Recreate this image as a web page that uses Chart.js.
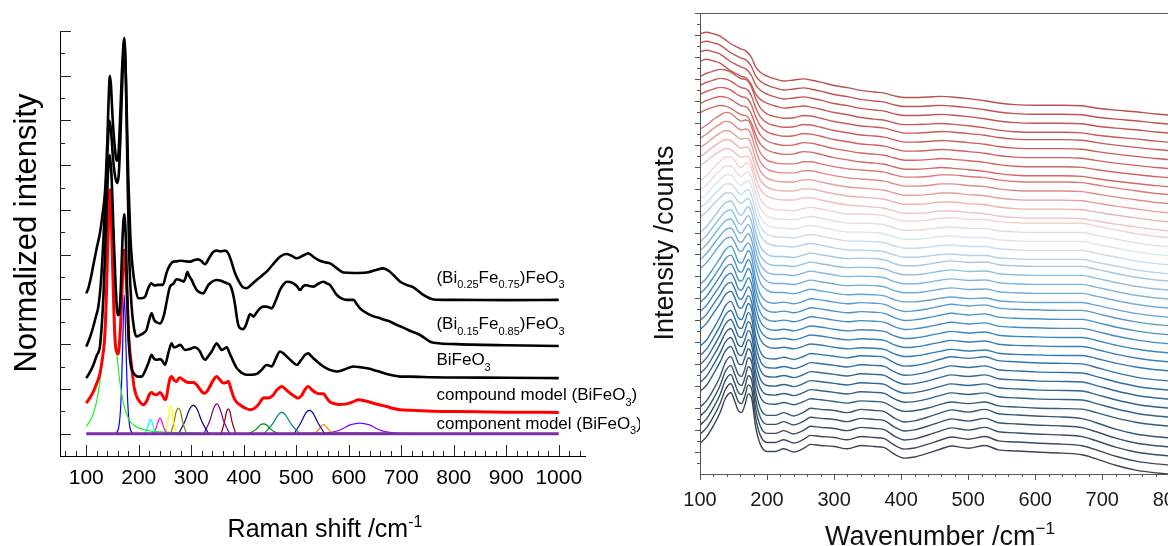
<!DOCTYPE html>
<html>
<head>
<meta charset="utf-8">
<script src="https://cdn.jsdelivr.net/npm/chart.js@4.4.1/dist/chart.umd.min.js"></script>
<style>
  html, body { margin: 0; padding: 0; background: #fff; overflow: hidden; }
  #page { position: relative; width: 1168px; height: 546px; overflow: hidden; }
  #left { position: absolute; left: 0; top: 0; width: 640px; height: 546px; }
  #right { position: absolute; left: 640px; top: 0; width: 560px; height: 546px; }
</style>
</head>
<body>
<div id="page">
  <div id="left"><canvas id="ramanChart"></canvas></div>
  <div id="right"><canvas id="waterfallChart"></canvas></div>
</div>
<script>
/* ---- Left panel: Raman spectra + peak fit ---- */
const ramanTicks = [100, 200, 300, 400, 500, 600, 700, 800, 900, 1000];

const bi25Spectrum = [[100,7.27],[104,7.5],[110,8.1],[114,8.6],[120,9.3],[126,9.96],[131,10.8],[136,11.9],[140,14.0],[143,16.2],[145,17.0],[147,16.6],[150,15.2],[154,13.9],[158,13.2],[161,13.4],[164,14.8],[168,17.2],[172.5,18.7],[176,16.5],[180,12.5],[184,9.8],[188,8.5],[193,7.6],[199,7.05],[205,7.05],[212,7.12],[218,7.5],[224,7.72],[230,7.62],[236,7.65],[246,7.65],[253,8.2],[259.5,8.54],[266,8.69],[272,8.7],[279,8.73],[290,8.7],[298,8.69],[306,8.76],[313.5,8.79],[320,8.7],[326,8.57],[334,8.85],[341,9.1],[348.5,9.18],[356,9.15],[364,9.18],[370.5,9.06],[377,8.65],[383.5,8.17],[392,7.75],[398,7.55],[405.5,7.5],[414,7.65],[424.5,7.87],[434,8.05],[443.5,8.24],[455,8.55],[469,8.91],[481.5,9.03],[491,8.95],[501,8.84],[512,8.95],[523,9.06],[534,8.88],[545,8.73],[555,8.66],[564.5,8.61],[577,8.4],[590,8.2],[610,8.18],[634,8.2],[650,8.3],[666,8.39],[676,8.28],[685,8.09],[698,7.79],[710,7.65],[723,7.54],[742,7.2],[758,7.02],[780,6.98],[806,6.98],[900,6.97],[1000,6.98]];

const bi15Spectrum = [[100,4.89],[107,5.3],[113.5,5.79],[118,6.2],[123,6.68],[128,7.8],[133,9.8],[137,11.8],[141,13.9],[144,15.0],[147,14.6],[151,13.3],[155,12.5],[159,12.2],[162,12.6],[165,14.2],[169,17.0],[172.5,18.4],[175.5,16.8],[179,12.0],[182,8.8],[186,6.8],[191,5.7],[196,5.34],[202,5.4],[208.5,5.49],[215,5.65],[220,6.1],[224.5,6.38],[229,6.1],[234,5.98],[240.5,5.93],[248,6.3],[254,7.0],[259.5,7.57],[266,7.7],[272,7.9],[278.6,7.87],[285,7.8],[289,7.95],[292.6,8.24],[296,8.05],[300.8,7.87],[305,7.65],[310.5,7.42],[317,7.3],[323,7.27],[328,7.45],[332.5,7.64],[340,7.8],[348.5,7.87],[355,7.85],[361,7.79],[368,7.72],[374,7.64],[379,7.3],[383.5,6.75],[386.5,6.25],[389.5,5.86],[394,5.7],[399,5.67],[404,5.85],[408.5,6.16],[412,6.35],[415,6.3],[418.5,6.23],[424,6.4],[431,6.6],[437,6.68],[443.5,6.68],[453,6.6],[461,6.95],[469,7.42],[475,7.65],[482,7.79],[488,7.78],[494.5,7.72],[501,7.6],[507,7.42],[512,7.55],[517,7.64],[525,7.6],[532.5,7.57],[542,7.7],[551.5,7.79],[558,7.72],[564.5,7.64],[570,7.45],[577,7.2],[586,7.05],[596,6.98],[609,6.98],[615,6.8],[621.5,6.6],[630,6.45],[640.5,6.31],[650,6.22],[659.5,6.16],[669,6.08],[678.5,6.01],[690,5.88],[698,5.8],[716.5,5.6],[736,5.41],[755,5.11],[775,5.03],[805,5.0],[900,4.95],[1000,4.92]];

const bfoSpectrum = [[100,3.48],[107,3.75],[113.5,4.07],[120,4.5],[126,4.89],[130,6.0],[133,7.3],[137,9.8],[141,12.4],[144.5,13.45],[148,12.6],[152,10.0],[156,7.6],[160,6.3],[163,6.4],[166,7.6],[169,9.7],[172.5,10.8],[175.5,9.6],[178,7.3],[181,5.2],[184,4.2],[188,3.8],[192.9,3.63],[199,3.55],[205.6,3.55],[212,3.8],[218.3,4.15],[224.6,4.52],[229,4.35],[234,4.3],[240.5,4.33],[245,4.25],[250,4.07],[256.3,4.6],[262.7,5.04],[267,4.85],[272,4.89],[279,4.97],[288,4.74],[297,4.78],[307,4.86],[312,4.8],[316.7,4.67],[321,4.45],[326.2,4.3],[332,4.45],[338.9,4.67],[344,4.9],[348.5,5.04],[353,4.9],[358,4.74],[363,4.8],[367.5,4.86],[373,4.6],[380.2,4.22],[386,3.95],[392.9,3.78],[399,3.68],[405.6,3.63],[415,3.63],[424.7,3.67],[434,3.85],[443.7,4.07],[448,4.05],[453.2,4.0],[460,4.3],[469,4.67],[475,4.6],[481.8,4.45],[491,4.25],[500.9,4.07],[508,4.25],[516.7,4.52],[523,4.59],[528,4.48],[532.6,4.37],[542,4.18],[551.6,4.0],[564,3.85],[577,3.78],[592,3.87],[608.8,4.0],[621.5,3.97],[635,3.92],[647,3.85],[660,3.76],[672.3,3.67],[685,3.6],[697.7,3.55],[716.7,3.55],[760,3.52],[805.6,3.51],[900,3.5],[1000,3.48]];

const compoundModel = [[100,2.36],[107,2.6],[113.5,2.88],[120,3.25],[126.2,3.7],[131,4.4],[135.7,5.49],[139,7.7],[142,10.3],[145,11.9],[148,10.5],[151,7.8],[154.8,5.19],[158,4.65],[161,4.57],[164,5.3],[167.5,6.98],[170,8.6],[172.5,9.2],[175,8.4],[178,6.98],[181,5.3],[186.5,4.0],[191,3.1],[196,2.66],[202,2.42],[208.7,2.29],[212,2.35],[216.3,2.51],[220,2.75],[224.6,2.84],[229,2.76],[234,2.74],[237,2.78],[240.5,2.84],[245,2.72],[250,2.51],[253,2.65],[256.3,3.11],[259,3.42],[262.7,3.55],[267,3.4],[272,3.33],[275.5,3.45],[278.6,3.5],[285,3.4],[292,3.3],[298,3.29],[304,3.29],[310,3.2],[316,3.0],[321,2.85],[326.2,2.81],[333,3.0],[341,3.35],[348.5,3.55],[355,3.4],[361,3.26],[366,3.28],[370.7,3.33],[375,3.05],[380.2,2.66],[386,2.42],[392.9,2.29],[402,2.15],[412,2.07],[420,2.12],[428,2.3],[437.4,2.59],[442,2.6],[447,2.59],[455,2.7],[463,2.95],[472.3,3.11],[480,2.98],[488.2,2.81],[496,2.68],[504,2.59],[510,2.7],[516,2.95],[523,3.11],[530,2.95],[539,2.81],[545,2.78],[551.6,2.78],[558,2.6],[564,2.42],[570.7,2.36],[580,2.3],[596,2.33],[608,2.42],[618.3,2.51],[630,2.47],[647,2.36],[660,2.28],[672.3,2.21],[685,2.12],[697.7,2.07],[716.7,2.04],[760,2.0],[805.6,1.99],[900,1.96],[1000,1.95]];

const componentBaseline = [[100,1.0],[1000,1.0]];

// fitted component peaks
const peak145 = [[100,1.32],[108,1.6],[115,2.0],[122,2.7],[128,3.7],[133,5.0],[138,7.2],[142,9.6],[145,10.85],[148,9.6],[152,7.2],[157,5.0],[162,3.7],[168,2.7],[175,2.0],[182,1.6],[192,1.35],[210,1.18],[240,1.08],[300,1.03],[400,1.0]];
const peak172 = [[156,1.0],[162,1.3],[166,2.4],[169,4.6],[172.5,7.2],[176,4.6],[179,2.4],[183,1.3],[189,1.0]];
const peak222 = [[210,1.0],[216,1.2],[219.5,1.5],[222.5,1.65],[225.5,1.5],[229,1.2],[235,1.0]];
const peak240 = [[227,1.0],[233,1.25],[237.5,1.58],[240.5,1.7],[243.5,1.58],[248,1.25],[254,1.0]];
const peak261 = [[250,1.0],[254.5,1.4],[258,2.0],[261,2.24],[264,2.0],[267.5,1.4],[272,1.0]];
const peak275 = [[261,1.0],[267,1.5],[271.5,2.0],[275.5,2.14],[279.5,2.0],[284,1.5],[291,1.0]];
const peak304 = [[276,1.0],[288,1.55],[297,2.1],[304,2.26],[311,2.1],[320,1.55],[333,1.0]];
const peak348 = [[324,1.0],[335,1.55],[343,2.15],[348.5,2.33],[354,2.15],[362,1.55],[373,1.0]];
const peak370 = [[357,1.0],[363,1.5],[367.5,2.0],[370.5,2.11],[373.5,2.0],[378,1.5],[385,1.0]];
const peak437 = [[410,1.0],[424,1.2],[432,1.4],[437.5,1.44],[443,1.4],[451,1.2],[465,1.0]];
const peak472 = [[438,1.0],[454,1.4],[466,1.85],[472.5,1.95],[479,1.85],[491,1.4],[507,1.0]];
const peak525 = [[496,1.0],[509,1.5],[519,1.95],[525,2.04],[531,1.95],[541,1.5],[554,1.0]];
const peak552 = [[536,1.0],[543,1.2],[549,1.37],[552,1.4],[555,1.37],[561,1.2],[568,1.0]];
const peak621 = [[555,1.0],[582,1.15],[604,1.4],[621,1.47],[638,1.4],[660,1.15],[692,1.0]];
const peakBroad = [[450,1.0],[520,1.02],[600,1.04],[680,1.02],[720,1.0]];

const seriesNames = [
  [["(Bi"], ["0.25", "sub"], ["Fe"], ["0.75", "sub"], [")FeO"], ["3", "sub"]],
  [["(Bi"], ["0.15", "sub"], ["Fe"], ["0.85", "sub"], [")FeO"], ["3", "sub"]],
  [["BiFeO"], ["3", "sub"]],
  [["compound model (BiFeO"], ["3", "sub"], [")"]],
  [["component model (BiFeO"], ["3", "sub"], [")"]],
];

/* ---- Right panel: temperature series waterfall ---- */
const waveTicks = [100, 200, 300, 400, 500, 600, 700, 800];
const wavenumbers = [100,110,120,130,138,146,152,157,162,167,172,177,183,190,200,212,225,240,255,265,280,300,320,340,360,375,390,405,420,440,460,475,500,525,545,570,600,640,670,690,720,750,780,800];

// spectrum shape of each group of traces (bottom group first)
const shapeDark  = [2.8,3.4,4.4,5.6,6.9,7.4,6.6,5.8,5.6,6.3,7.3,6.9,4.3,2.7,2.05,2.05,2.3,2.0,2.35,2.7,2.6,2.5,2.3,2.6,2.5,2.4,1.8,1.45,1.55,1.9,2.3,2.55,2.35,2.6,2.2,2.1,2.0,1.9,1.75,1.4,0.8,0.35,0.1,0.0];
const shapeNavy  = [3.4,4.0,5.0,6.1,7.1,7.5,6.8,6.0,5.85,6.5,7.3,6.8,4.4,2.9,2.3,2.25,2.4,2.2,2.5,2.75,2.65,2.5,2.35,2.55,2.5,2.4,1.9,1.6,1.65,1.9,2.25,2.45,2.3,2.45,2.1,2.0,1.9,1.85,1.8,1.5,1.0,0.6,0.35,0.25];
const shapeBlue  = [4.1,4.7,5.6,6.5,7.3,7.6,7.0,6.2,6.05,6.6,7.2,6.6,4.6,3.2,2.55,2.4,2.5,2.35,2.6,2.8,2.7,2.5,2.35,2.45,2.4,2.3,1.9,1.65,1.7,1.9,2.15,2.3,2.15,2.25,1.95,1.85,1.8,1.75,1.75,1.5,1.05,0.7,0.45,0.35];
const shapeSky   = [4.7,5.3,6.1,6.9,7.45,7.6,7.1,6.45,6.3,6.75,7.1,6.5,4.8,3.45,2.75,2.55,2.55,2.45,2.7,2.85,2.7,2.5,2.35,2.4,2.35,2.25,1.9,1.7,1.7,1.85,2.05,2.15,2.0,2.05,1.8,1.7,1.65,1.65,1.65,1.4,1.0,0.65,0.4,0.3];
const shapePale  = [5.3,5.8,6.5,7.1,7.5,7.5,7.15,6.7,6.55,6.85,7.0,6.4,4.95,3.65,2.95,2.7,2.65,2.6,2.8,2.9,2.75,2.5,2.3,2.3,2.25,2.15,1.85,1.65,1.65,1.75,1.9,1.95,1.8,1.8,1.6,1.5,1.45,1.45,1.45,1.2,0.85,0.5,0.25,0.15];
const shapePink  = [5.9,6.3,6.8,7.2,7.45,7.35,7.05,6.8,6.65,6.75,6.7,6.1,4.85,3.75,3.1,2.85,2.75,2.75,2.95,2.95,2.75,2.5,2.3,2.2,2.1,2.0,1.75,1.55,1.55,1.6,1.75,1.75,1.6,1.5,1.3,1.15,1.1,1.1,1.05,0.85,0.55,0.3,0.05,-0.05];
const shapeRed   = [6.6,6.9,7.1,7.25,7.2,7.0,6.75,6.55,6.4,6.35,6.15,5.6,4.6,3.75,3.2,2.95,2.8,2.85,3.05,3.0,2.8,2.5,2.3,2.1,2.0,1.9,1.65,1.45,1.45,1.5,1.6,1.55,1.4,1.25,1.05,0.9,0.85,0.85,0.8,0.6,0.35,0.15,-0.05,-0.15];
const shapeTop   = [7.2,7.35,7.2,7.0,6.65,6.3,6.1,5.95,5.8,5.7,5.45,5.0,4.2,3.7,3.35,3.1,2.9,3.0,3.1,3.0,2.8,2.5,2.3,2.05,1.9,1.8,1.55,1.4,1.4,1.45,1.5,1.45,1.3,1.1,0.9,0.75,0.7,0.7,0.65,0.45,0.25,0.1,-0.1,-0.2];

// which shape each trace uses, and its vertical offset (bottom trace first)
const traceShape = [0,0,0,0,0, 1,1,1,1,1,1, 2,2,2,2,2,2, 3,3,3,3,3, 4,4,4,4,4, 5,5,5,5,5, 6,6,6,6,6, 7,7,7,7];
const traceOffsets = [0,0.82,1.65,2.47,3.29,4.11,4.94,5.76,6.58,7.40,8.23,9.05,9.87,10.69,11.52,12.34,13.16,13.98,14.81,15.63,16.45,17.27,18.10,18.92,19.74,20.56,21.39,22.21,23.03,23.85,24.68,25.50,26.32,27.14,27.97,28.79,29.61,30.43,31.26,32.08,32.90];

/* ---- Styling ---- */
const FONT = "'Liberation Sans', Arial, Helvetica, sans-serif";
Chart.defaults.font.family = FONT;
Chart.defaults.animation = false;
Chart.defaults.plugins.legend.display = false;
Chart.defaults.plugins.tooltip.enabled = false;

const componentColors = ["#22ee22", "#0000ff", "#00ffff", "#ff00ff", "#ffff00", "#808000", "#000080", "#800080", "#800000", "#008000", "#008080", "#0000a0", "#ff8000", "#8000ff", "#a0522d"];

const traceColorStops = [
  [0, "#3b4654"], [3, "#37536b"], [7, "#2f6590"], [11, "#3479b0"], [15, "#4a92c6"],
  [19, "#82b6dc"], [22, "#b3d1e9"], [24, "#dbe5f0"], [26, "#f3d1d0"], [28, "#eeb1ae"],
  [30, "#e08a85"], [32, "#d16a64"], [36, "#c75b55"], [40, "#bb514d"],
];

function hexToRgb(h) {
  const n = parseInt(h.slice(1), 16);
  return [(n >> 16) & 255, (n >> 8) & 255, n & 255];
}

function traceColor(i) {
  for (let k = 0; k < traceColorStops.length - 1; k++) {
    const [i0, c0] = traceColorStops[k];
    const [i1, c1] = traceColorStops[k + 1];
    if (i >= i0 && i <= i1) {
      const t = (i - i0) / (i1 - i0);
      const a = hexToRgb(c0), b = hexToRgb(c1);
      return `rgb(${a.map((v, j) => Math.round(v + (b[j] - v) * t)).join(",")})`;
    }
  }
  return traceColorStops[traceColorStops.length - 1][1];
}

function steps(from, to, step) {
  const out = [];
  for (let v = from; v <= to + 1e-9; v += step) out.push(Math.round(v * 1000) / 1000);
  return out;
}

const xy = (pts) => pts.map(([x, y]) => ({ x, y }));

function trace(pts, color, width) {
  return {
    data: xy(pts),
    borderColor: color,
    borderWidth: width,
    pointRadius: 0,
    fill: false,
    cubicInterpolationMode: "monotone",
  };
}

/* ---- Plugins: tick marks, frame, rich text ---- */
const tickMarks = {
  id: "tickMarks",
  afterDatasetsDraw(chart, args, opts) {
    const { ctx, chartArea } = chart;
    ctx.save();
    ctx.strokeStyle = opts.color || "#000";
    ctx.lineWidth = 1;
    if (opts.frame) {
      ctx.strokeRect(Math.round(chartArea.left) + 0.5, Math.round(chartArea.top) + 0.5,
        Math.round(chartArea.right - chartArea.left), Math.round(chartArea.bottom - chartArea.top));
    }
    (opts.sets || []).forEach((set) => {
      const scale = chart.scales[set.axis];
      const horiz = scale.isHorizontal();
      set.values.forEach((v) => {
        const p = Math.round(scale.getPixelForValue(v)) + 0.5;
        ctx.beginPath();
        if (horiz) {
          const y0 = Math.round(chartArea.bottom);
          ctx.moveTo(p, y0);
          ctx.lineTo(p, y0 + (set.inward ? -set.len : set.len));
        } else {
          const x0 = Math.round(chartArea.left);
          ctx.moveTo(x0, p);
          ctx.lineTo(x0 + (set.inward ? set.len : -set.len), p);
        }
        ctx.stroke();
      });
    });
    ctx.restore();
  },
};

const richText = {
  id: "richText",
  afterDraw(chart, args, opts) {
    const { ctx } = chart;
    (opts.items || []).forEach((it) => {
      let x = it.x, y = it.y;
      if (it.data) {
        x = chart.scales.x.getPixelForValue(it.data[0]);
        y = chart.scales.y.getPixelForValue(it.data[1]);
      }
      ctx.save();
      ctx.translate(x, y);
      if (it.rotate) ctx.rotate(-Math.PI / 2);
      ctx.fillStyle = it.color || "#000";
      ctx.textBaseline = "alphabetic";
      ctx.textAlign = "left";
      const small = Math.round(it.size * 0.63);
      const fontFor = (r) => `${r[1] ? small : it.size}px ${FONT}`;
      const widths = it.runs.map((r) => { ctx.font = fontFor(r); return ctx.measureText(r[0]).width; });
      const total = widths.reduce((a, b) => a + b, 0);
      let cx = it.align === "center" ? -total / 2 : 0;
      it.runs.forEach((r, i) => {
        ctx.font = fontFor(r);
        const dy = r[1] === "sub" ? it.size * 0.33 : r[1] === "sup" ? -it.size * 0.42 : 0;
        ctx.fillText(r[0], cx, dy);
        cx += widths[i];
      });
      ctx.restore();
    });
  },
};

/* ---- Left chart ---- */
const componentPeaks = [peak145, peak172, peak222, peak240, peak261, peak275, peak304, peak348, peak370, peak437, peak472, peak525, peak552, peak621, peakBroad];

const leftDatasets = [
  trace(bi25Spectrum, "#000", 2.6),
  trace(bi15Spectrum, "#000", 2.6),
  trace(bfoSpectrum, "#000", 2.6),
  trace(compoundModel, "#ff0000", 3),
  trace(componentBaseline, "#7b2ca8", 3),
  ...componentPeaks.map((p, i) => trace(p, componentColors[i], 1.2)),
];

const labelY = [7.75, 5.67, 4.05, 2.5, 1.22];

new Chart(document.getElementById("ramanChart"), {
  type: "line",
  data: { datasets: leftDatasets },
  options: {
    responsive: true,
    maintainAspectRatio: false,
    layout: { padding: { top: 31, right: 55, left: 0, bottom: 0 } },
    scales: {
      x: {
        type: "linear",
        min: 50,
        max: 1050,
        afterBuildTicks: (s) => { s.ticks = ramanTicks.map((v) => ({ value: v })); },
        afterFit: (s) => { s.height = 90; },
        grid: { display: false, drawTicks: false },
        border: { color: "#000", width: 1 },
        ticks: { color: "#000", font: { size: 21 }, padding: 10, maxRotation: 0, autoSkip: false, callback: (v) => String(v) },
      },
      y: {
        type: "linear",
        min: 0,
        max: 19,
        afterFit: (s) => { s.width = 60; },
        grid: { display: false, drawTicks: false },
        border: { color: "#000", width: 1 },
        ticks: { display: false },
      },
    },
    plugins: {
      tickMarks: {
        color: "#222",
        sets: [
          { axis: "x", values: ramanTicks, len: 11, inward: true },
          { axis: "x", values: steps(60, 1040, 20).filter((v) => v % 100 !== 0), len: 5, inward: true },
          { axis: "y", values: steps(1, 19, 2), len: 11, inward: true },
          { axis: "y", values: steps(2, 18, 2), len: 5, inward: true },
        ],
      },
      richText: {
        items: [
          ...seriesNames.map((runs, i) => ({ runs, data: [767, labelY[i]], size: 17 })),
          { runs: [["Raman shift /cm"], ["-1", "sup"]], x: 325, y: 537, size: 25, align: "center" },
          { runs: [["Normalized intensity"]], x: 36, y: 233, size: 31, align: "center", rotate: true },
        ],
      },
    },
  },
  plugins: [tickMarks, richText],
});

/* ---- Right chart ---- */
const traceShapes = [shapeDark, shapeNavy, shapeBlue, shapeSky, shapePale, shapePink, shapeRed, shapeTop];

const rightDatasets = traceOffsets.map((off, i) => ({
  data: wavenumbers.map((w, j) => ({ x: w, y: traceShapes[traceShape[i]][j] + off })),
  borderColor: traceColor(i),
  borderWidth: 1.4,
  pointRadius: 0,
  fill: false,
  cubicInterpolationMode: "monotone",
}));

new Chart(document.getElementById("waterfallChart"), {
  type: "line",
  data: { datasets: rightDatasets },
  options: {
    responsive: true,
    maintainAspectRatio: false,
    layout: { padding: { top: 13, right: 20, left: 0, bottom: 0 } },
    scales: {
      x: {
        type: "linear",
        min: 100,
        max: 800,
        afterBuildTicks: (s) => { s.ticks = waveTicks.map((v) => ({ value: v })); },
        afterFit: (s) => { s.height = 72; },
        grid: { display: false, drawTicks: false },
        border: { color: "#555", width: 1 },
        ticks: { color: "#1a1a1a", font: { size: 20 }, padding: 14, maxRotation: 0, autoSkip: false, callback: (v) => String(v) },
      },
      y: {
        type: "linear",
        min: 0,
        max: 42,
        afterFit: (s) => { s.width = 60; },
        grid: { display: false, drawTicks: false },
        border: { color: "#555", width: 1 },
        ticks: { display: false },
      },
    },
    plugins: {
      tickMarks: {
        color: "#555",
        frame: true,
        sets: [
          { axis: "x", values: waveTicks, len: 6, inward: false },
          { axis: "x", values: steps(120, 780, 20).filter((v) => v % 100 !== 0), len: 3, inward: false },
          { axis: "y", values: steps(2, 42, 2), len: 5, inward: false },
          { axis: "y", values: steps(1, 41, 2), len: 3, inward: false },
        ],
      },
      richText: {
        items: [
          { runs: [["Wavenumber /cm"], ["\u22121", "sup"]], x: 300, y: 545, size: 27, align: "center", color: "#111" },
          { runs: [["Intensity /counts"]], x: 33, y: 243, size: 27, align: "center", rotate: true, color: "#111" },
        ],
      },
    },
  },
  plugins: [tickMarks, richText],
});
</script>
</body>
</html>
